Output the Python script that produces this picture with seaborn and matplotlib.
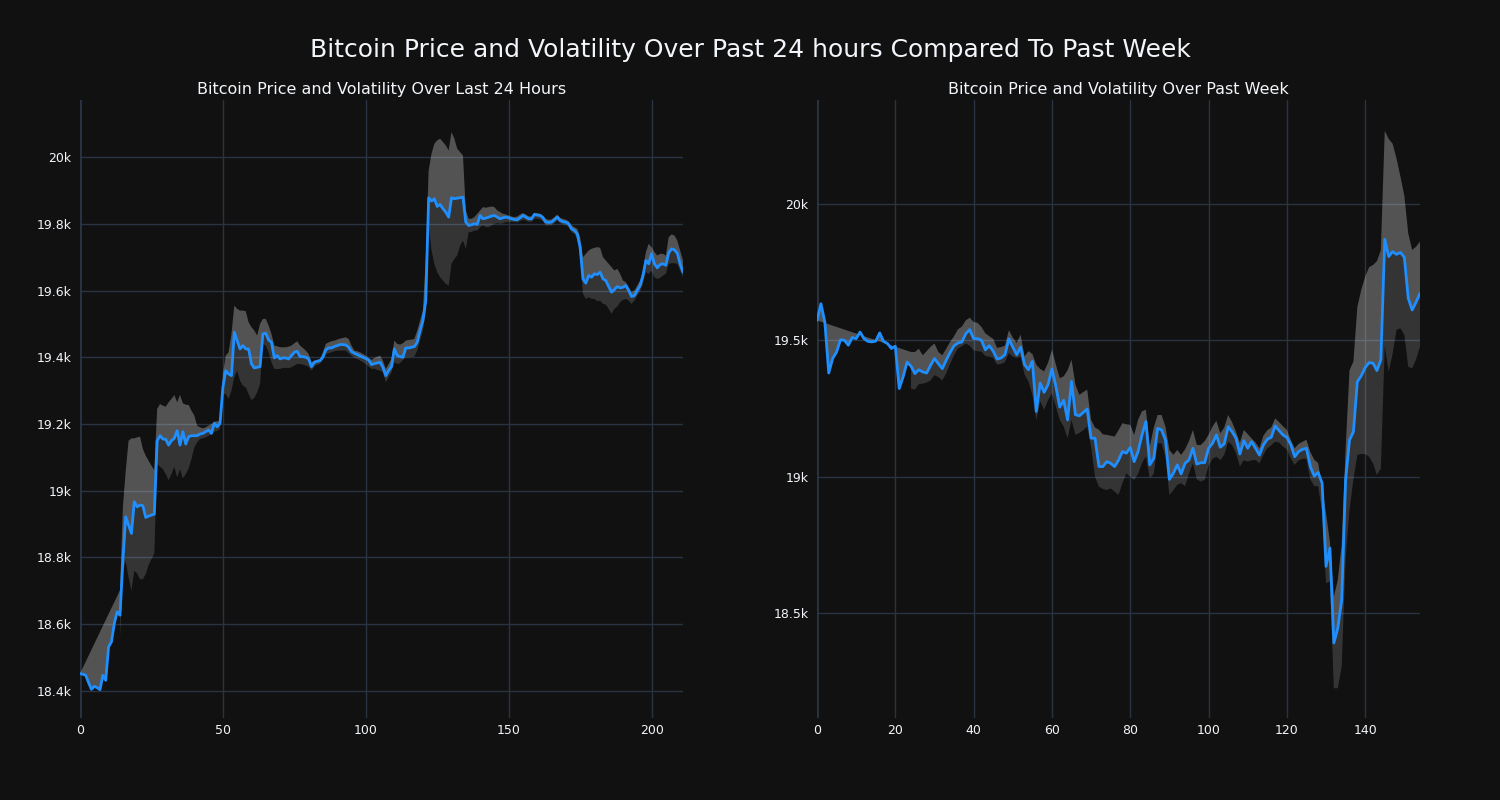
import numpy as np
import pandas as pd
import seaborn as sns
import matplotlib.pyplot as plt
from matplotlib.ticker import FuncFormatter

nan = float("nan")

# Last 24 hours: price and the volatility band around it
day_price = [
    18452, 18450, 18447, 18425, 18405, 18414, 18410, 18404, 18447, 18432,
    18532, 18547, 18602, 18637, 18627, 18790, 18922, 18897, 18872, 18967,
    18952, 18957, 18955, 18920, 18924, 18927, 18930, 19150, 19165, 19155,
    19154, 19137, 19150, 19157, 19180, 19137, 19177, 19140, 19162, 19165,
    19165, 19165, 19170, 19172, 19177, 19182, 19172, 19202, 19192, 19202,
    19310, 19360, 19350, 19345, 19475, 19450, 19425, 19435, 19425, 19425,
    19380, 19368, 19370, 19372, 19470, 19472, 19452, 19445, 19398, 19405,
    19395, 19398, 19398, 19395, 19405, 19415, 19418, 19402, 19402, 19400,
    19395, 19372, 19385, 19388, 19390, 19400, 19422, 19428, 19428, 19432,
    19435, 19438, 19438, 19437, 19430, 19417, 19412, 19408, 19404, 19400,
    19396, 19392, 19378, 19381, 19383, 19385, 19370, 19345, 19360, 19372,
    19425, 19405, 19402, 19400, 19428, 19428, 19430, 19432, 19445, 19480,
    19510, 19570, 19878, 19868, 19875, 19852, 19858, 19845, 19835, 19820,
    19878, 19875, 19877, 19878, 19880, 19805, 19795, 19797, 19800, 19798,
    19825, 19815, 19817, 19820, 19823, 19825, 19820, 19815, 19818, 19820,
    19818, 19815, 19813, 19812, 19818, 19825, 19820, 19815, 19815, 19828,
    19826, 19825, 19818, 19805, 19804, 19805, 19812, 19820, 19810, 19806,
    19805, 19800, 19785, 19780, 19770, 19730, 19635, 19622, 19645, 19640,
    19650, 19648, 19655, 19635, 19630, 19612, 19595, 19603, 19612, 19608,
    19610, 19615, 19600, 19582, 19585, 19600, 19615, 19645, 19690, 19680,
    19710, 19680, 19668, 19678, 19680, 19676, 19713, 19725, 19722, 19712,
    19680, 19655,
]
day_upper = [nan] * 14 + [
    18702, 18950, 19060, 19150, 19157, 19157,
    19160, 19162, 19125, 19105, 19090, 19075, 19062, 19245, 19260, 19255,
    19252, 19265, 19275, 19287, 19265, 19287, 19262, 19258, 19257, 19240,
    19225, 19195, 19190, 19187, 19190, 19195, 19200, 19207, 19208, 19210,
    19350, 19405, 19415, 19470, 19555, 19545, 19540, 19540, 19538, 19505,
    19490, 19480, 19465, 19500, 19515, 19515, 19495, 19470, 19435, 19433,
    19430, 19430, 19430, 19432, 19435, 19442, 19448, 19435, 19428, 19420,
    19410, 19385, 19390, 19392, 19395, 19415, 19440, 19445, 19448, 19450,
    19453, 19456, 19458, 19460, 19455, 19435, 19420, 19418, 19415, 19410,
    19405, 19398, 19392, 19398, 19402, 19405, 19390, 19365, 19380, 19395,
    19450, 19440, 19438, 19442, 19450, 19452, 19453, 19455, 19480, 19510,
    19540, 19700, 19960, 20010, 20040, 20050, 20055, 20045, 20035, 20020,
    20075, 20055, 20025, 20015, 20005, 19840, 19815, 19815, 19820, 19830,
    19840, 19850, 19848, 19850, 19852, 19850, 19840, 19835, 19830, 19828,
    19825, 19822, 19820, 19822, 19828, 19832, 19828, 19822, 19822, 19833,
    19832, 19830, 19825, 19815, 19812, 19813, 19820, 19828, 19818, 19815,
    19812, 19808, 19795, 19790, 19785, 19760, 19700, 19710, 19720, 19725,
    19728, 19730, 19728, 19700, 19690, 19680, 19670, 19660, 19665, 19650,
    19630, 19625, 19610, 19595, 19600, 19615, 19630, 19660, 19715, 19740,
    19730, 19715, 19705, 19710, 19710, 19705, 19760, 19768, 19765, 19750,
    19720, 19690,
]
day_lower = [nan] * 14 + [
    18562, 18760, 18790, 18740, 18700, 18760,
    18752, 18735, 18735, 18750, 18777, 18795, 18812, 19080, 19072, 19065,
    19050, 19032, 19050, 19072, 19040, 19065, 19037, 19050, 19067, 19095,
    19130, 19145, 19155, 19157, 19160, 19165, 19170, 19177, 19180, 19185,
    19290, 19290, 19275, 19300, 19340, 19360, 19330, 19315, 19310, 19290,
    19272, 19278, 19295, 19320, 19440, 19435, 19415, 19385, 19365, 19365,
    19365, 19368, 19368, 19368, 19370, 19375, 19380, 19380, 19378, 19375,
    19372, 19360, 19372, 19378, 19380, 19395, 19410, 19412, 19415, 19418,
    19420, 19420, 19420, 19420, 19412, 19405, 19398, 19395, 19390, 19385,
    19380, 19372, 19365, 19366, 19362, 19360, 19355, 19325, 19340, 19355,
    19385, 19380, 19382, 19392, 19400, 19400, 19401, 19402, 19420, 19450,
    19480, 19540, 19800, 19720, 19680, 19655, 19640, 19630, 19620, 19615,
    19680, 19695, 19705, 19735, 19750, 19725, 19775, 19775, 19780, 19780,
    19790, 19795, 19790, 19790, 19795, 19800, 19802, 19800, 19802, 19805,
    19806, 19806, 19805, 19804, 19808, 19812, 19810, 19806, 19806, 19815,
    19815, 19814, 19808, 19795, 19795, 19796, 19802, 19810, 19802, 19798,
    19796, 19790, 19775, 19770, 19755, 19700, 19590, 19575, 19580, 19575,
    19575, 19568, 19570, 19560, 19558, 19545, 19530, 19545, 19552, 19565,
    19572, 19575, 19570, 19560, 19570, 19585, 19598, 19620, 19655, 19650,
    19660, 19640, 19635, 19638, 19645, 19650, 19680, 19682, 19682, 19680,
    19660, 19640,
]

# Past week
week_price = [
    19573, 19634, 19567, 19380, 19433, 19457, 19502, 19500, 19482, 19510,
    19506, 19530, 19506, 19496, 19494, 19497, 19527, 19496, 19488, 19470,
    19478, 19323, 19366, 19420, 19405, 19378, 19392, 19384, 19380, 19408,
    19433, 19414, 19396, 19427, 19455, 19480, 19490, 19494, 19524, 19539,
    19506, 19506, 19500, 19465, 19480, 19460, 19431, 19435, 19447, 19505,
    19475, 19447, 19475, 19411, 19392, 19423, 19239, 19343, 19309, 19337,
    19395, 19331, 19255, 19280, 19208, 19349, 19227, 19223, 19235, 19248,
    19141, 19141, 19037, 19037, 19055, 19049, 19037, 19060, 19092, 19086,
    19107, 19055, 19092, 19153, 19202, 19043, 19067, 19177, 19171, 19134,
    18990, 19012, 19043, 19010, 19049, 19061, 19104, 19046, 19051, 19051,
    19104, 19122, 19153, 19108, 19120, 19183, 19165, 19141, 19083, 19132,
    19104, 19128, 19104, 19079, 19116, 19137, 19144, 19186, 19169, 19153,
    19144, 19117, 19073, 19092, 19100, 19104, 19037, 19002, 19015, 18976,
    18671, 18738, 18390, 18444, 18548, 18988, 19134, 19165, 19348, 19370,
    19400, 19418, 19416, 19389, 19428, 19870, 19807, 19825, 19815, 19822,
    19804, 19654, 19611, 19640, 19672,
]
week_upper = [nan] * 24 + [
    19457, 19457, 19469, 19445, 19460, 19476,
    19488, 19457, 19445, 19469, 19494, 19515, 19540, 19550, 19573, 19583,
    19567, 19564, 19549, 19525, 19515, 19505, 19472, 19475, 19480, 19537,
    19510, 19490, 19521, 19441, 19460, 19450, 19410, 19395, 19386, 19417,
    19466, 19411, 19361, 19368, 19390, 19429, 19337, 19300, 19310, 19319,
    19208, 19180, 19172, 19155, 19153, 19150, 19147, 19170, 19196, 19192,
    19190, 19153, 19208, 19240, 19245, 19110, 19180, 19226, 19226, 19183,
    19098, 19080, 19098, 19080, 19100, 19130, 19171, 19116, 19116, 19130,
    19153, 19183, 19205, 19159, 19180, 19226, 19200, 19165, 19125, 19171,
    19156, 19140, 19125, 19104, 19150, 19170, 19180, 19214, 19200, 19185,
    19171, 19134, 19104, 19120, 19128, 19135, 19090, 19062, 19050, 18960,
    18866, 18760, 18560, 18620, 18750, 19100, 19390, 19422, 19623, 19685,
    19733, 19768, 19776, 19790, 19830, 20268, 20238, 20221, 20167, 20100,
    20030, 19892, 19831, 19843, 19862,
]
week_lower = [nan] * 24 + [
    19323, 19319, 19339, 19341, 19345, 19353,
    19372, 19365, 19353, 19378, 19414, 19445, 19470, 19478, 19488, 19480,
    19463, 19460, 19458, 19442, 19440, 19435, 19411, 19413, 19420, 19453,
    19440, 19435, 19440, 19374, 19349, 19300, 19208, 19276, 19245, 19280,
    19306, 19257, 19208, 19184, 19141, 19208, 19153, 19160, 19170, 19184,
    19110, 19000, 18963, 18955, 18951, 18957, 18945, 18933, 18975, 19012,
    19000, 18988, 19010, 19050, 19074, 18994, 19010, 19122, 19122, 19073,
    18933, 18950, 18970, 18976, 18965, 19012, 19049, 18990, 18982, 18988,
    19040, 19065, 19073, 19061, 19079, 19128, 19116, 19086, 19037, 19060,
    19055, 19060, 19061, 19049, 19080, 19104, 19115, 19128, 19125, 19110,
    19100, 19067, 19043, 19060, 19065, 19065, 18990, 18965, 18965, 18870,
    18609, 18615, 18224, 18224, 18303, 18700, 18878, 18990, 19080, 19083,
    19083, 19073, 19049, 19006, 19030, 19480, 19385, 19450, 19538, 19544,
    19520, 19403, 19397, 19430, 19477,
]

day_xticks = [0, 50, 100, 150, 200]
day_yticks = [18400, 18600, 18800, 19000, 19200, 19400, 19600, 19800, 20000]
week_xticks = [0, 20, 40, 60, 80, 100, 120, 140]
week_yticks = [18500, 19000, 19500, 20000]

main_title = "Bitcoin Price and Volatility Over Past 24 hours Compared To Past Week"
day_title = "Bitcoin Price and Volatility Over Last 24 Hours"
week_title = "Bitcoin Price and Volatility Over Past Week"

BG = "#111111"
GRID = "#283442"
TEXT = "#f2f5fa"
LINE = "#1f8fff"

sns.set_theme(style="darkgrid", rc={
    "figure.facecolor": BG,
    "axes.facecolor": BG,
    "grid.color": GRID,
    "grid.linewidth": 1,
    "text.color": TEXT,
    "xtick.color": TEXT,
    "ytick.color": TEXT,
})
plt.rcParams["font.family"] = ["DejaVu Sans"]

fig = plt.figure(figsize=(15, 8), dpi=100)
ax1 = fig.add_axes([80 / 1500, 82 / 800, 603 / 1500, 618 / 800])
ax2 = fig.add_axes([817 / 1500, 82 / 800, 603 / 1500, 618 / 800])

kfmt = FuncFormatter(lambda v, _: f"{v / 1000:g}k")


def panel(ax, price, upper, lower, xticks, yticks, xlim, ylim, title):
    df = pd.DataFrame({"step": np.arange(len(price)), "price": price,
                       "upper": upper, "lower": lower})
    step = df["step"].to_numpy()
    p = df["price"].to_numpy()
    up = df.dropna(subset=["upper"])
    lo = df.dropna(subset=["lower"])
    # light fill: whole price line back along the upper band (wedge at start)
    ax.fill(np.r_[step, up["step"].to_numpy()[::-1]],
            np.r_[p, up["upper"].to_numpy()[::-1]],
            color="white", alpha=0.28, lw=0, zorder=1)
    # dark fill: lower band to price, only where the band exists
    ax.fill(np.r_[lo["step"].to_numpy(), lo["step"].to_numpy()[::-1]],
            np.r_[lo["lower"].to_numpy(), lo["price"].to_numpy()[::-1]],
            color="white", alpha=0.15, lw=0, zorder=1)
    sns.lineplot(data=df, x="step", y="price", ax=ax, color=LINE,
                 linewidth=2, zorder=3)
    ax.axvline(0, color=GRID, lw=2, zorder=0.6)
    ax.set_xlim(*xlim)
    ax.set_ylim(*ylim)
    ax.set_xticks(xticks)
    ax.set_yticks(yticks)
    ax.yaxis.set_major_formatter(kfmt)
    ax.set_xlabel("")
    ax.set_ylabel("")
    ax.tick_params(axis="both", length=0, labelsize=9, colors=TEXT)
    ax.tick_params(axis="y", pad=6)
    ax.tick_params(axis="x", pad=4)
    for s in ax.spines.values():
        s.set_visible(False)
    ax.grid(True, color=GRID, lw=1)
    ax.set_axisbelow(True)
    ax.set_title(title, fontsize=11.5, color=TEXT, pad=4.5)


panel(ax1, day_price, day_upper, day_lower, day_xticks, day_yticks,
      (0, len(day_price) - 1), (18319, 20171), day_title)
panel(ax2, week_price, week_upper, week_lower, week_xticks, week_yticks,
      (0, len(week_price) - 1), (18115, 20381), week_title)

fig.text(0.5, 1 - 50 / 800, main_title, ha="center", va="center",
         fontsize=18, color=TEXT)

fig.savefig("out.png", dpi=100, facecolor=BG)
